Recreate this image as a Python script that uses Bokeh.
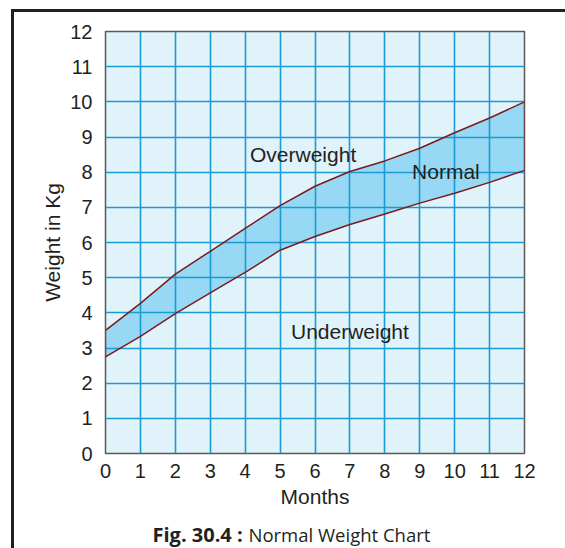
from bokeh.plotting import figure
from bokeh.models import Range1d, FixedTicker, Label
from bokeh.layouts import column
from bokeh.embed import file_html
from bokeh.resources import INLINE

# Data
months = [0, 1, 2, 3, 4, 5, 6, 7, 8, 9, 10, 11, 12]
upper_kg = [3.5, 4.27, 5.1, 5.75, 6.4, 7.05, 7.6, 8.02, 8.32, 8.68, 9.12, 9.54, 10.0]
lower_kg = [2.75, 3.33, 3.98, 4.57, 5.15, 5.78, 6.17, 6.51, 6.81, 7.12, 7.4, 7.71, 8.05]
y_ticks = [0, 1, 2, 3, 4, 5, 6, 7, 8, 9, 10, 11, 12]
zone_labels = ["Overweight", "Normal", "Underweight"]
zone_x = [5.66, 9.75, 7.0]
zone_y = [8.5, 8.02, 3.47]
caption_bold = "Fig. 30.4 :"
caption_text = "Normal Weight Chart"

TXT = "#231f20"
FONT = "Liberation Sans"

p = figure(width=551, height=498,
           x_range=Range1d(0, 12), y_range=Range1d(0, 12),
           output_backend="svg", toolbar_location=None,
           min_border_left=91, min_border_right=41,
           min_border_top=19, min_border_bottom=57,
           background_fill_color="#e0f2fa", border_fill_color="white",
           outline_line_color="#5a5a5a", outline_line_width=1.5)

# normal band
p.varea(x=months, y1=lower_kg, y2=upper_kg, fill_color="#97d8f4", level="image")
xs = months + months[::-1]
ys = upper_kg + lower_kg[::-1]
p.patch(xs, ys, fill_color=None, line_color="#7b1b1b", line_width=1.5)

# axes
p.xaxis.ticker = FixedTicker(ticks=months)
p.yaxis.ticker = FixedTicker(ticks=y_ticks)
p.grid.grid_line_color = "#1b9bd3"
p.grid.grid_line_width = 1.6
p.axis.axis_line_color = None
p.axis.major_tick_line_color = None
p.axis.minor_tick_line_color = None
p.axis.major_label_text_font = FONT
p.axis.major_label_text_font_size = "20px"
p.axis.major_label_text_color = TXT
p.xaxis.major_label_standoff = 4
p.yaxis.major_label_standoff = 7
p.xaxis.axis_label = "Months"
p.yaxis.axis_label = "Weight in Kg"
p.axis.axis_label_text_font = FONT
p.axis.axis_label_text_font_size = "21px"
p.axis.axis_label_text_font_style = "normal"
p.axis.axis_label_text_color = TXT
p.xaxis.axis_label_standoff = 4
p.yaxis.axis_label_standoff = 3

for t, x, y in zip(zone_labels, zone_x, zone_y):
    p.add_layout(Label(x=x, y=y, text=t, text_align="center", text_baseline="middle",
                       text_font=FONT, text_font_size="21px", text_color=TXT))

# caption strip (data units = canvas pixels)
cap = figure(width=551, height=38, x_range=Range1d(91, 510), y_range=Range1d(0, 38),
             output_backend="svg", toolbar_location=None,
             min_border_left=91, min_border_right=41,
             min_border_top=0, min_border_bottom=0,
             outline_line_color=None, border_fill_color="white",
             background_fill_color="white")
cap.xaxis.visible = False
cap.yaxis.visible = False
cap.grid.visible = False
cap.add_layout(Label(x=138, y=14, text=caption_bold, text_align="left",
                     text_baseline="alphabetic", text_font="Open Sans",
                     text_font_size="20px", text_font_style="bold", text_color=TXT))
cap.add_layout(Label(x=234, y=14, text=caption_text, text_align="left",
                     text_baseline="alphabetic", text_font="Open Sans",
                     text_font_size="18.5px", text_color=TXT))

layout = column(p, cap, spacing=0,
                styles={"border-top": "3px solid #231f20",
                        "border-left": "3px solid #231f20",
                        "margin-left": "11px", "margin-top": "9px"})

open("out.html", "w").write(file_html(layout, INLINE))
